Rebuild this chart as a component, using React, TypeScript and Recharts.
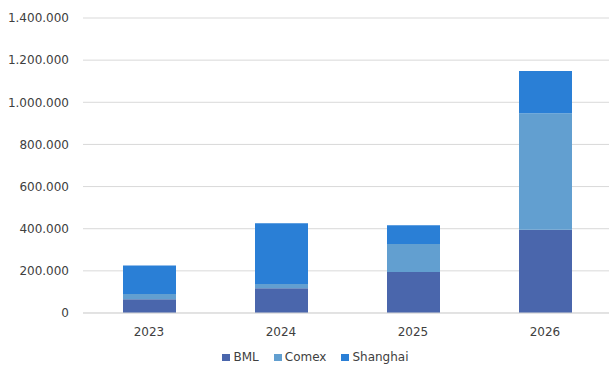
import { BarChart, Bar, XAxis, YAxis, CartesianGrid, Legend } from 'recharts';

const years = ['2023', '2024', '2025', '2026'];
const bml = [65000, 117000, 195000, 395000];
const comex = [25000, 21000, 132000, 553000];
const shanghai = [135000, 288000, 89000, 200000];
const yTicks = [0, 200000, 400000, 600000, 800000, 1000000, 1200000, 1400000];

const series = [
  { key: 'BML', color: '#4a66ac' },
  { key: 'Comex', color: '#629fd0' },
  { key: 'Shanghai', color: '#2a7fd6' },
];

const data = years.map((year, i) => ({
  year,
  BML: bml[i],
  Comex: comex[i],
  Shanghai: shanghai[i],
}));

const FONT = '"DejaVu Sans", sans-serif';
const TEXT = '#404040';

// 1400000 -> "1.400.000"
const formatDots = (v: number) => String(v).replace(/\B(?=(\d{3})+(?!\d))/g, '.');

function LegendContent() {
  return (
    <div
      style={{
        display: 'flex',
        justifyContent: 'center',
        paddingLeft: 22,
        fontFamily: FONT,
        fontSize: 12,
        color: TEXT,
      }}
    >
      {series.map((s, i) => (
        <div
          key={s.key}
          style={{ display: 'flex', alignItems: 'center', marginLeft: i === 0 ? 0 : 15 }}
        >
          <span style={{ width: 8, height: 7, background: s.color, marginRight: 3, display: 'inline-block' }} />
          <span>{s.key}</span>
        </div>
      ))}
    </div>
  );
}

export default function App() {
  return (
    <div style={{ position: 'absolute', left: 0, top: 0, width: 609, height: 365, overflow: 'hidden', background: '#fff' }}>
      <BarChart width={611} height={365} data={data} margin={{ top: 18, right: 0, bottom: 22, left: 0 }}>
        <CartesianGrid vertical={false} stroke="#d9d9d9" />
        <XAxis
          dataKey="year"
          height={30}
          tickLine={false}
          tickSize={6}
          tickMargin={8}
          axisLine={{ stroke: '#d9d9d9' }}
          tick={{ fill: TEXT, fontSize: 12, fontFamily: FONT }}
        />
        <YAxis
          width={83}
          domain={[0, 1400000]}
          ticks={yTicks}
          interval={0}
          tickFormatter={formatDots}
          axisLine={false}
          tickLine={false}
          tickSize={6}
          tickMargin={8}
          tick={{ fill: TEXT, fontSize: 12, fontFamily: FONT }}
        />
        <Legend
          layout="horizontal"
          verticalAlign="middle"
          align="center"
          wrapperStyle={{ top: 350, left: 0, width: 609 }}
          content={<LegendContent />}
        />
        {series.map((s) => (
          <Bar key={s.key} dataKey={s.key} stackId="a" fill={s.color} barSize={53} isAnimationActive={false} />
        ))}
      </BarChart>
    </div>
  );
}
